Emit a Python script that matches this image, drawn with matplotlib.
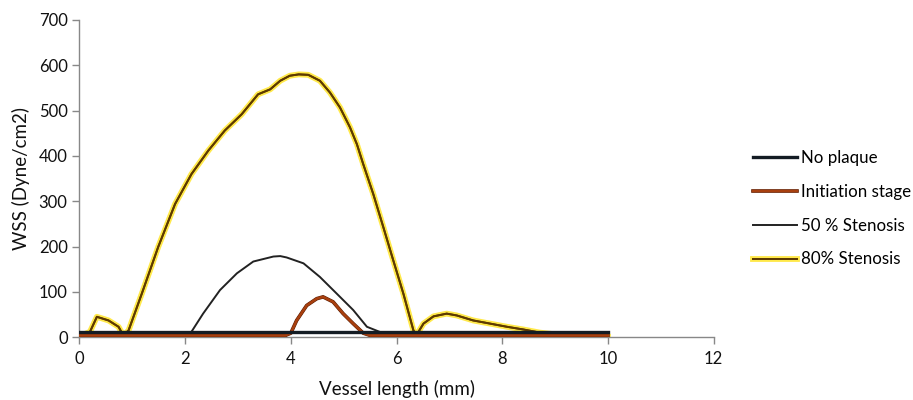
import matplotlib
matplotlib.use("Agg")
import matplotlib.pyplot as plt
import matplotlib.patheffects as pe

plt.rcParams['font.family'] = ['Lato', 'DejaVu Sans']

# ---- data ----
no_plaque_x = [0, 2, 4, 6, 8, 10]
no_plaque_y = [11, 11, 11, 11, 11, 11]

init_x = [0, 1, 2, 3, 3.9, 4.0, 4.11, 4.30, 4.49, 4.61, 4.80, 4.99, 5.18, 5.37, 5.5, 6, 7, 8, 9, 10]
init_y = [4, 4, 4, 4, 4, 9, 37, 70, 85, 89, 78, 52, 30, 9, 4, 4, 4, 4, 4, 4]

st50_x = [0, 1, 2.0, 2.12, 2.34, 2.66, 2.98, 3.29, 3.67, 3.80, 3.92, 4.24, 4.55, 4.87, 5.18, 5.44, 5.72, 5.81, 6.5, 8, 10]
st50_y = [5, 5, 5, 12, 52, 104, 141, 167, 178, 179, 176, 163, 133, 96, 60, 23, 10, 5, 5, 5, 5]

st80_x = [0, 0.20, 0.33, 0.55, 0.74, 0.83, 0.93, 1.18, 1.49, 1.81, 2.12, 2.44, 2.75, 3.07,
          3.38, 3.61, 3.80, 3.98, 4.15, 4.33, 4.55, 4.74, 4.93, 5.12, 5.25, 5.37, 5.56, 5.75,
          5.94, 6.13, 6.32, 6.38, 6.51, 6.70, 6.95, 7.14, 7.45, 7.77, 8.09, 8.40, 8.72, 9.03,
          9.66, 10]
st80_y = [2, 12, 45, 37, 23, 4, 15, 96, 199, 294, 360, 412, 456, 492,
          536, 547, 566, 577, 580, 579, 566, 540, 507, 463, 426, 382, 316, 243,
          169, 96, 15, 5, 30, 46, 52, 48, 37, 30, 23, 17, 10, 6,
          2, 1]

labels = ["No plaque", "Initiation stage", "50 % Stenosis", "80% Stenosis"]
x_ticks = [0, 2, 4, 6, 8, 10, 12]
y_ticks = [0, 100, 200, 300, 400, 500, 600, 700]

# ---- figure ----
fig = plt.figure(figsize=(9.13, 4.0), dpi=100)
ax = fig.add_axes([0.087, 0.157, 0.6946, 0.793])

ax.plot(st80_x, st80_y, color='#5e3a00', lw=1.4, label=labels[3],
        path_effects=[pe.withStroke(linewidth=4.2, foreground='#ffe94a'), pe.Normal()], zorder=2)
ax.plot(st50_x, st50_y, color='#222222', lw=1.4, label=labels[2], zorder=3)
ax.plot(init_x, init_y, color='#a8400f', lw=1.6, label=labels[1],
        path_effects=[pe.withStroke(linewidth=2.6, foreground='#5a1a00'), pe.Normal()], zorder=4)
ax.plot(no_plaque_x, no_plaque_y, color='#141c24', lw=2.4, label=labels[0], zorder=5)

ax.set_xlim(0, 12)
ax.set_ylim(0, 700)
ax.set_xticks(x_ticks)
ax.set_yticks(y_ticks)
ax.set_xlabel("Vessel length (mm)", fontsize=13.5, color='#111111', labelpad=9)
ax.set_ylabel("WSS (Dyne/cm2)", fontsize=13.5, color='#111111', labelpad=6)
ax.tick_params(axis='both', labelsize=12, colors='#888888', labelcolor='#111111', length=5, width=1)
ax.tick_params(axis='x', pad=5)
for s in ['top', 'right']:
    ax.spines[s].set_visible(False)
for s in ['left', 'bottom']:
    ax.spines[s].set_color('#888888')
    ax.spines[s].set_linewidth(1)

handles, labs = ax.get_legend_handles_labels()
order = [3, 2, 1, 0]
fig.legend([handles[i] for i in order], [labs[i] for i in order],
           loc='center left', bbox_to_anchor=(0.825, 0.478), frameon=False,
           fontsize=12.2, handlelength=2.6, handletextpad=0.2, labelspacing=1.05,
           borderpad=0, borderaxespad=0)

fig.savefig("out.png", dpi=100)
